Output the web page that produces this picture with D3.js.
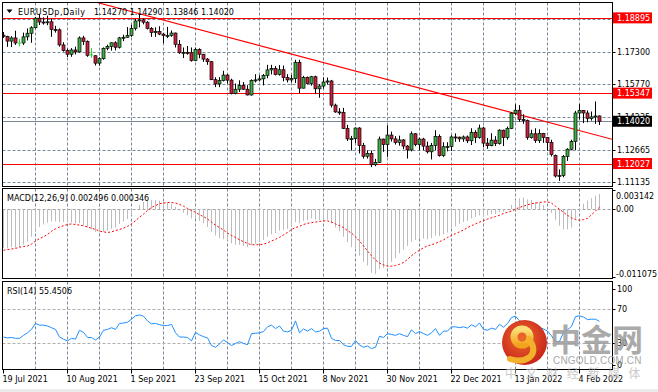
<!DOCTYPE html>
<html><head><meta charset="utf-8">
<script src="https://cdn.jsdelivr.net/npm/d3@7"></script>
<style>
html,body{margin:0;padding:0;background:#fff;overflow:hidden;}
svg{display:block;font-family:"DejaVu Sans",Verdana,sans-serif;}
</style></head><body>
<svg id="c" width="658" height="392"></svg>
<script>
// ---------------- DATA ----------------
const symbolTitle = "EURUSDp,Daily";
const lastQuote = "1.14270 1.14290 1.13846 1.14020";
const openP = [1.1808,1.1802,1.1780,1.1795,1.1771,1.1771,1.1800,1.1817,1.1843,1.1888,
1.1870,1.1868,1.1871,1.1835,1.1833,1.1762,1.1735,1.1718,1.1738,1.1729,
1.1795,1.1779,1.1715,1.1711,1.1676,1.1697,1.1746,1.1755,1.1772,1.1751,
1.1795,1.1798,1.1806,1.1840,1.1875,1.1880,1.1869,1.1840,1.1820,1.1825,
1.1813,1.1806,1.1807,1.1818,1.1765,1.1725,1.1727,1.1725,1.1688,1.1740,
1.1718,1.1695,1.1683,1.1598,1.1578,1.1594,1.1620,1.1596,1.1533,1.1553,
1.1570,1.1553,1.1526,1.1594,1.1597,1.1602,1.1618,1.1644,1.1651,1.1623,
1.1645,1.1608,1.1597,1.1603,1.1680,1.1558,1.1608,1.1580,1.1612,1.1555,
1.1568,1.1587,1.1592,1.1478,1.1446,1.1444,1.1368,1.1319,1.1320,1.1370,
1.1288,1.1237,1.1250,1.1197,1.1208,1.1318,1.1292,1.1337,1.1319,1.1302,
1.1314,1.1285,1.1267,1.1343,1.1292,1.1318,1.1285,1.1258,1.1288,1.1330,
1.1240,1.1282,1.1283,1.1328,1.1327,1.1319,1.1328,1.1310,1.1350,1.1326,
1.1370,1.1299,1.1287,1.1313,1.1297,1.1360,1.1325,1.1368,1.1440,1.1454,
1.1411,1.1405,1.1325,1.1343,1.1311,1.1344,1.1325,1.1302,1.1240,1.1144,
1.1146,1.1236,1.1270,1.1307,1.1441,1.1453,1.1441,1.1415,1.1423,1.14270];
const highP = [1.1823,1.1805,1.1803,1.1829,1.1790,1.1820,1.1840,1.1850,1.1894,1.1909,
1.1892,1.1900,1.1885,1.1852,1.1840,1.1775,1.1745,1.1747,1.1754,1.1802,
1.1805,1.1783,1.1747,1.1713,1.1703,1.1750,1.1763,1.1774,1.1779,1.1800,
1.1810,1.1846,1.1857,1.1884,1.1909,1.1888,1.1874,1.1846,1.1845,1.1850,
1.1818,1.1847,1.1830,1.1820,1.1785,1.1750,1.1757,1.1750,1.1749,1.1746,
1.1720,1.1700,1.1686,1.1610,1.1610,1.1640,1.1625,1.1603,1.1580,1.1595,
1.1587,1.1572,1.1600,1.1624,1.1619,1.1625,1.1668,1.1668,1.1662,1.1667,
1.1665,1.1624,1.1620,1.1692,1.1692,1.1616,1.1613,1.1616,1.1617,1.1577,
1.1609,1.1608,1.1597,1.1485,1.1464,1.1465,1.1385,1.1333,1.1373,1.1374,
1.1300,1.1265,1.1264,1.1225,1.1330,1.1320,1.1383,1.1353,1.1332,1.1334,
1.1318,1.1290,1.1354,1.1346,1.1325,1.1324,1.1306,1.1300,1.1360,1.1340,
1.1303,1.1303,1.1336,1.1345,1.1330,1.1335,1.1335,1.1369,1.1360,1.1386,
1.1376,1.1323,1.1346,1.1332,1.1364,1.1362,1.1377,1.1445,1.1482,1.1478,
1.1435,1.1410,1.1362,1.1369,1.1364,1.1346,1.1327,1.1315,1.1245,1.1175,
1.1243,1.1275,1.1315,1.1451,1.1483,1.1455,1.1453,1.1448,1.1495,1.14290];
const lowP = [1.1795,1.1753,1.1752,1.1762,1.1755,1.1762,1.1783,1.1772,1.1840,1.1856,
1.1858,1.1855,1.1800,1.1820,1.1754,1.1730,1.1705,1.1706,1.1717,1.1726,
1.1762,1.1706,1.1701,1.1665,1.1664,1.1692,1.1737,1.1735,1.1736,1.1745,
1.1780,1.1795,1.1800,1.1830,1.1845,1.1859,1.1835,1.1800,1.1800,1.1808,
1.1770,1.1794,1.1800,1.1750,1.1720,1.1700,1.1716,1.1683,1.1685,1.1699,
1.1682,1.1668,1.1597,1.1563,1.1563,1.1590,1.1580,1.1529,1.1529,1.1540,
1.1550,1.1524,1.1523,1.1585,1.1590,1.1571,1.1605,1.1623,1.1618,1.1617,
1.1590,1.1585,1.1585,1.1582,1.1535,1.1557,1.1576,1.1570,1.1530,1.1513,
1.1556,1.1575,1.1467,1.1442,1.1432,1.1366,1.1309,1.1264,1.1300,1.1250,
1.1226,1.1226,1.1186,1.1190,1.1205,1.1258,1.1234,1.1306,1.1292,1.1287,
1.1270,1.1226,1.1260,1.1284,1.1264,1.1266,1.1250,1.1222,1.1265,1.1235,
1.1234,1.1260,1.1262,1.1305,1.1305,1.1305,1.1299,1.1290,1.1300,1.1320,
1.1280,1.1272,1.1284,1.1285,1.1292,1.1285,1.1315,1.1365,1.1431,1.1400,
1.1390,1.1315,1.1320,1.1300,1.1300,1.1300,1.1263,1.1236,1.1137,1.1121,
1.1138,1.1215,1.1265,1.1266,1.1411,1.1393,1.1397,1.1405,1.1390,1.13846];
const closeP = [1.1802,1.1780,1.1795,1.1771,1.1771,1.1800,1.1817,1.1843,1.1888,1.1870,
1.1868,1.1871,1.1835,1.1833,1.1762,1.1735,1.1718,1.1738,1.1729,1.1795,
1.1779,1.1713,1.1715,1.1676,1.1697,1.1746,1.1755,1.1772,1.1751,1.1795,
1.1798,1.1806,1.1840,1.1875,1.1880,1.1869,1.1840,1.1820,1.1825,1.1813,
1.1806,1.1807,1.1818,1.1765,1.1725,1.1727,1.1725,1.1688,1.1740,1.1718,
1.1695,1.1683,1.1598,1.1578,1.1594,1.1620,1.1596,1.1533,1.1553,1.1570,
1.1553,1.1526,1.1594,1.1597,1.1602,1.1618,1.1644,1.1651,1.1623,1.1645,
1.1608,1.1597,1.1603,1.1680,1.1558,1.1608,1.1580,1.1612,1.1555,1.1568,
1.1587,1.1592,1.1478,1.1446,1.1444,1.1368,1.1319,1.1320,1.1370,1.1288,
1.1237,1.1250,1.1197,1.1208,1.1318,1.1292,1.1337,1.1319,1.1302,1.1314,
1.1285,1.1267,1.1343,1.1292,1.1318,1.1285,1.1258,1.1288,1.1330,1.1240,
1.1282,1.1283,1.1328,1.1327,1.1319,1.1328,1.1310,1.1350,1.1326,1.1370,
1.1299,1.1287,1.1313,1.1297,1.1360,1.1325,1.1368,1.1440,1.1454,1.1411,
1.1405,1.1325,1.1343,1.1311,1.1344,1.1325,1.1302,1.1245,1.1144,1.1146,
1.1236,1.1270,1.1307,1.1441,1.1453,1.1441,1.1415,1.1423,1.1427,1.14020];

// MACD(12,26,9) main (histogram) and signal, in thousandths
const macdMainK = [-6.3,-6.4,-6.2,-6.3,-6.2,-5.8,-5.3,-4.5,-3.5,-2.9,
-2.5,-2.2,-2.0,-2.0,-2.1,-2.1,-2.1,-2.2,-2.3,-2.3,
-2.6,-3.0,-3.3,-3.7,-3.8,-3.7,-3.5,-3.2,-3.0,-2.4,
-2.0,-1.6,-1.0,-0.1,0.7,1.2,1.4,1.5,1.5,1.4,
1.3,1.1,0.9,0.4,-0.2,-0.6,-1.0,-1.5,-1.6,-1.9,
-2.3,-2.9,-3.7,-4.3,-4.7,-4.9,-5.1,-5.6,-5.8,-5.8,
-6.0,-6.2,-5.9,-5.6,-5.3,-5.0,-4.5,-4.1,-3.9,-3.5,
-3.4,-3.2,-2.9,-2.1,-2.3,-1.9,-1.8,-1.5,-1.7,-1.8,
-1.8,-1.7,-2.3,-3.0,-3.6,-4.5,-5.4,-6.2,-6.6,-7.6,
-8.6,-9.2,-10.4,-10.6,-9.8,-9.6,-9.2,-8.6,-8.0,-7.2,
-6.6,-6.0,-5.3,-5.0,-4.8,-4.8,-4.9,-4.7,-4.3,-4.4,
-4.1,-3.8,-3.2,-2.8,-2.4,-2.1,-1.9,-1.5,-1.3,-1.0,
-1.1,-1.0,-0.8,-0.8,-0.5,-0.4,0.0,0.7,1.5,1.8,
1.9,1.6,1.5,1.2,1.1,0.7,0.2,-0.6,-1.8,-2.7,
-3.3,-3.3,-3.0,-1.6,-0.2,0.9,1.4,1.8,2.2,2.496];
const macdSignalK = [-6.7,-6.6,-6.5,-6.4,-6.2,-6.1,-6.0,-5.7,-5.2,-4.8,
-4.5,-4.1,-3.6,-3.2,-2.9,-2.7,-2.5,-2.4,-2.5,-2.6,
-2.7,-2.9,-3.1,-3.3,-3.6,-3.7,-3.8,-3.7,-3.5,-3.3,
-3.1,-2.8,-2.4,-1.9,-1.3,-0.8,-0.2,0.3,0.6,0.9,
1.0,1.1,1.1,1.0,0.8,0.5,0.1,-0.2,-0.5,-0.9,
-1.2,-1.6,-2.1,-2.6,-3.0,-3.4,-3.9,-4.3,-4.6,-5.0,
-5.3,-5.6,-5.8,-5.8,-5.8,-5.7,-5.5,-5.2,-4.9,-4.6,
-4.2,-3.8,-3.3,-3.0,-2.8,-2.5,-2.3,-2.2,-2.1,-2.0,
-1.9,-1.9,-2.1,-2.4,-2.7,-3.0,-3.5,-3.9,-4.5,-5.2,
-6.0,-6.8,-7.6,-8.3,-8.8,-9.1,-9.3,-9.3,-9.2,-9.0,
-8.7,-8.2,-7.6,-7.1,-6.7,-6.3,-6.0,-5.8,-5.6,-5.3,
-5.0,-4.6,-4.3,-4.0,-3.7,-3.4,-3.0,-2.7,-2.4,-2.1,
-1.9,-1.6,-1.4,-1.2,-1.0,-0.7,-0.5,-0.3,0.0,0.3,
0.5,0.7,0.9,1.0,1.1,1.2,1.2,1.0,0.5,0.0,
-0.5,-1.0,-1.4,-1.7,-1.8,-1.7,-1.5,-0.9,-0.3,0.346];
const rsi14 = [37,36,36.5,35.5,35.5,39,42,46,53,51,
51,50,48,46,37,34.5,32.5,35.5,34.5,45,
42.5,36.5,36.5,33.5,37,45,46,48,46,53,
53.5,54.5,58,62,63,61.5,56,52.5,53,51.5,
50.5,50.5,52,42,37,37,36.5,32.5,42.5,39.5,
37.5,36,27,25,29,33.5,30.5,27,29.5,31.5,
29.5,28,41,41.5,42,43.5,49,51,47,50,
44,43,45,56,42,46.5,44,47,43,44,
47,47.5,35.5,33,33,28,26,26,33,27.5,
25,26.5,23.5,25,38,36.5,41,40,39,41,
39,37.5,45.5,41,43.5,41,39,42,47,39,
44,44,49,49,48,49,47.5,51.5,49,53.5,
46,45,47.5,46,52,48.5,53,60,61.5,56,
55,46,48,45,48.5,46.5,44,38.5,31.5,32,
42,45.5,49.5,61,62,60.5,57.5,58,58,55.45];

const dateLabels = ["19 Jul 2021","10 Aug 2021","1 Sep 2021","23 Sep 2021","15 Oct 2021",
  "8 Nov 2021","30 Nov 2021","22 Dec 2021","13 Jan 2022","4 Feb 2022"];
const dateLabelBars = [0,16,32,48,64,80,96,112,128,144];
const priceTicks = [1.18835,1.17300,1.15770,1.14235,1.12665,1.11135];
const hLevels = [1.18895,1.15347,1.12027];
const currentPrice = 1.14020;
const trendPts = [{bar:34,price:1.1909},{bar:150,price:1.1328}];
const macdAxis = [{v:0.003142,t:"0.003142"},{v:0,t:"0.00"},{v:-0.011075,t:"-0.011075"}];
const rsiAxis = [100,70,30,0];
const rsiLevels = [70,30];
const macdTitle = "MACD(12,26,9) 0.002496 0.000346";
const rsiTitle = "RSI(14) 55.4506";

// ---------------- LAYOUT ----------------
const N = closeP.length;
const L = 2.5, R = 612.5;
const main = {t:2.5, b:186.5}, mp = {t:188.5, b:278.5}, rp = {t:281.5, b:369.5};
const gridCol = "#778899";
const svg = d3.select("#c");
svg.append("rect").attr("width",658).attr("height",392).attr("fill","#fff");

const x = d3.scaleLinear().domain([0, N-1]).range([3.5, 3.5 + 4*(N-1)]);
const yP = d3.scaleLinear().domain([1.12665, 1.17300]).range([150, 51.7]);
const yM = d3.scaleLinear().domain([-0.011075, 0.003142]).range([277, 190]);
const yR = d3.scaleLinear().domain([0, 100]).range([368.5, 283.5]);

const defs = svg.append("defs");
[["cMain",main],["cMacd",mp],["cRsi",rp]].forEach(([id,p])=>{
  defs.append("clipPath").attr("id",id).append("rect")
    .attr("x",L+0.5).attr("y",p.t+0.5).attr("width",R-L-1).attr("height",p.b-p.t-1);
});

// vertical grid
const gridBars = d3.range(8, N, 8);
[main, mp, rp].forEach(p=>{
  svg.append("g").selectAll("line").data(gridBars).join("line")
    .attr("x1",d=>x(d)).attr("x2",d=>x(d)).attr("y1",p.t).attr("y2",p.b)
    .attr("stroke",gridCol).attr("stroke-dasharray","3,2").attr("stroke-width",1);
});

// ---------- main pane ----------
const gm = svg.append("g").attr("clip-path","url(#cMain)");
gm.selectAll("line.hg").data(priceTicks).join("line").attr("class","hg")
  .attr("x1",L).attr("x2",R).attr("y1",d=>Math.round(yP(d))+0.5).attr("y2",d=>Math.round(yP(d))+0.5)
  .attr("stroke",gridCol).attr("stroke-dasharray","3,2");
gm.append("line").attr("x1",L).attr("x2",R)
  .attr("y1",Math.round(yP(currentPrice))+0.5).attr("y2",Math.round(yP(currentPrice))+0.5)
  .attr("stroke",gridCol).attr("stroke-width",1);
gm.selectAll("line.lv").data(hLevels).join("line").attr("class","lv")
  .attr("x1",L).attr("x2",R).attr("y1",d=>Math.round(yP(d))+0.5).attr("y2",d=>Math.round(yP(d))+0.5)
  .attr("stroke","#ff0000").attr("stroke-width",1);
// trend line
const tSlope = (trendPts[1].price - trendPts[0].price)/(trendPts[1].bar - trendPts[0].bar);
const tPrice = b => trendPts[0].price + tSlope*(b - trendPts[0].bar);
const bStart = 15, bEnd = 155;
gm.append("line").attr("x1",x(bStart)).attr("y1",yP(tPrice(bStart)))
  .attr("x2",x(bEnd)).attr("y2",yP(tPrice(bEnd))).attr("stroke","#ff0000").attr("stroke-width",1.1);

// candles
const bars = d3.range(N);
const cg = gm.append("g");
cg.selectAll("line.wick").data(bars).join("line").attr("class","wick")
  .attr("x1",i=>x(i)).attr("x2",i=>x(i))
  .attr("y1",i=>yP(highP[i])).attr("y2",i=>yP(lowP[i]))
  .attr("stroke",i=>openP[i]===closeP[i] ? "#22dd22" : "#000").attr("stroke-width",1);
cg.selectAll("rect.body").data(bars.filter(i=>openP[i]!==closeP[i])).join("rect").attr("class","body")
  .attr("x",i=>x(i)-1.5).attr("width",3)
  .attr("y",i=>yP(Math.max(openP[i],closeP[i])))
  .attr("height",i=>Math.max(1, Math.abs(yP(openP[i])-yP(closeP[i]))))
  .attr("fill",i=>closeP[i]>openP[i] ? "#3cb043" : "#cc1f3f")
  .attr("stroke","#000").attr("stroke-width",0.7);
cg.selectAll("line.doji").data(bars.filter(i=>openP[i]===closeP[i])).join("line").attr("class","doji")
  .attr("x1",i=>x(i)-1.5).attr("x2",i=>x(i)+1.5)
  .attr("y1",i=>yP(openP[i])).attr("y2",i=>yP(openP[i]))
  .attr("stroke","#22dd22").attr("stroke-width",1);

// ---------- MACD pane ----------
const gmc = svg.append("g").attr("clip-path","url(#cMacd)");
gmc.append("line").attr("x1",L).attr("x2",R).attr("y1",Math.round(yM(0))+0.5).attr("y2",Math.round(yM(0))+0.5)
  .attr("stroke","#a0a0a0").attr("stroke-dasharray","3,2");
gmc.selectAll("line.hist").data(bars).join("line").attr("class","hist")
  .attr("x1",i=>x(i)).attr("x2",i=>x(i))
  .attr("y1",yM(0)).attr("y2",i=>yM(macdMainK[i]*1e-3))
  .attr("stroke","#bcbcbc").attr("stroke-width",1);
gmc.append("path").datum(bars)
  .attr("d",d3.line().x(i=>x(i)).y(i=>yM(macdSignalK[i]*1e-3)))
  .attr("fill","none").attr("stroke","#ff0000").attr("stroke-width",1).attr("stroke-dasharray","2,2");

// ---------- RSI pane ----------
const gr = svg.append("g").attr("clip-path","url(#cRsi)");
gr.selectAll("line.lvl").data(rsiLevels).join("line").attr("class","lvl")
  .attr("x1",L).attr("x2",R).attr("y1",d=>Math.round(yR(d))+0.5).attr("y2",d=>Math.round(yR(d))+0.5)
  .attr("stroke","#b0b0b0").attr("stroke-dasharray","3,2");
gr.append("path").datum(bars)
  .attr("d",d3.line().x(i=>x(i)).y(i=>yR(rsi14[i])))
  .attr("fill","none").attr("stroke","#1e90ff").attr("stroke-width",1);

// pane borders
[main, mp, rp].forEach(p=>{
  svg.append("rect").attr("x",L).attr("y",p.t).attr("width",R-L).attr("height",p.b-p.t)
    .attr("fill","none").attr("stroke","#000").attr("stroke-width",1);
});

// ---------- texts ----------
const fs = "8px";
svg.append("path").attr("d","M6.5,9.5 L12.5,9.5 L9.5,13 Z").attr("fill","#000");
svg.append("text").attr("x",18).attr("y",15).attr("font-size",fs).attr("textLength",67).text(symbolTitle);
svg.append("text").attr("x",94).attr("y",15).attr("font-size",fs).text(lastQuote);
svg.append("text").attr("x",7).attr("y",201).attr("font-size",fs).text(macdTitle);
svg.append("text").attr("x",7).attr("y",294).attr("font-size",fs).text(rsiTitle);

// price axis
const clampY = (y,p)=>Math.max(p.t+7, Math.min(p.b-5, y));
const pa = svg.append("g").attr("font-size",fs);
priceTicks.forEach(v=>{
  const yy = clampY(yP(v), main);
  pa.append("line").attr("x1",R).attr("x2",R+3).attr("y1",Math.round(yy)+0.5).attr("y2",Math.round(yy)+0.5).attr("stroke","#000");
  pa.append("text").attr("x",617).attr("y",yy+3).text(d3.format(".5f")(v));
});
function priceBox(v, col){
  const yy = yP(v);
  pa.append("rect").attr("x",613).attr("y",yy-5.5).attr("width",39).attr("height",11).attr("fill",col);
  pa.append("text").attr("x",617).attr("y",yy+3).attr("fill","#fff").text(d3.format(".5f")(v));
}
hLevels.forEach(v=>priceBox(v,"#ff0000"));
priceBox(currentPrice,"#000");

// macd axis
macdAxis.forEach(a=>{
  const yy = clampY(yM(a.v), mp);
  svg.append("line").attr("x1",R).attr("x2",R+3).attr("y1",Math.round(yM(a.v))+0.5).attr("y2",Math.round(yM(a.v))+0.5).attr("stroke","#000");
  svg.append("text").attr("x",616).attr("y",yy+3).attr("font-size",fs).text(a.t);
});
// rsi axis
rsiAxis.forEach(v=>{
  const yy = clampY(yR(v), rp);
  svg.append("line").attr("x1",R).attr("x2",R+3).attr("y1",Math.round(yy)+0.5).attr("y2",Math.round(yy)+0.5).attr("stroke","#000");
  svg.append("text").attr("x",617).attr("y",yy+3).attr("font-size",fs).text(v);
});

// date axis
dateLabels.forEach((t,k)=>{
  const xx = x(dateLabelBars[k]);
  svg.append("line").attr("x1",xx).attr("x2",xx).attr("y1",rp.b).attr("y2",rp.b+4).attr("stroke","#000");
  svg.append("text").attr("x",xx-1).attr("y",382).attr("font-size",fs).text(t);
});

// bottom strip
svg.append("rect").attr("x",0).attr("y",389).attr("width",658).attr("height",3).attr("fill","#ececec");

// ---------- watermark ----------
const wm = svg.append("g");
const rg = defs.append("radialGradient").attr("id","lg").attr("cx","45%").attr("cy","40%").attr("r","60%");
rg.append("stop").attr("offset","0%").attr("stop-color","#ee6a2a");
rg.append("stop").attr("offset","100%").attr("stop-color","#c8261c");
const yg = defs.append("linearGradient").attr("id","yg").attr("x1","0").attr("y1","0").attr("x2","0").attr("y2","1");
yg.append("stop").attr("offset","0%").attr("stop-color","#fbe07a");
yg.append("stop").attr("offset","100%").attr("stop-color","#f2a21c");
wm.append("circle").attr("cx",524.5).attr("cy",342.5).attr("r",22.5).attr("fill","url(#lg)");
wm.append("circle").attr("cx",522).attr("cy",337).attr("r",8).attr("fill","none").attr("stroke","url(#yg)").attr("stroke-width",7);
wm.append("path").attr("d","M529,339 Q537,350 530,357 Q522,363 510,359")
  .attr("fill","none").attr("stroke","#f3b02a").attr("stroke-width",6).attr("stroke-linecap","round");
wm.append("text").attr("x",550).attr("y",351).attr("font-family","'Noto Sans CJK SC',sans-serif")
  .attr("font-size","31px").attr("font-weight","bold").attr("fill","#9c9c9c").attr("opacity",0.85).text("中金网");
wm.append("text").attr("x",553).attr("y",364).attr("font-family","'Liberation Sans',Arial,sans-serif")
  .attr("font-size","10px").attr("fill","#a8a8a8").attr("letter-spacing","0.2").text("CNGOLD.COM.CN");
wm.append("text").attr("x",505).attr("y",378).attr("font-family","'Noto Sans CJK SC',sans-serif")
  .attr("font-size","12px").attr("fill","#bdbdbd").attr("opacity",0.8).attr("letter-spacing","8.6").text("中文财经新媒体");
</script>
</body></html>
